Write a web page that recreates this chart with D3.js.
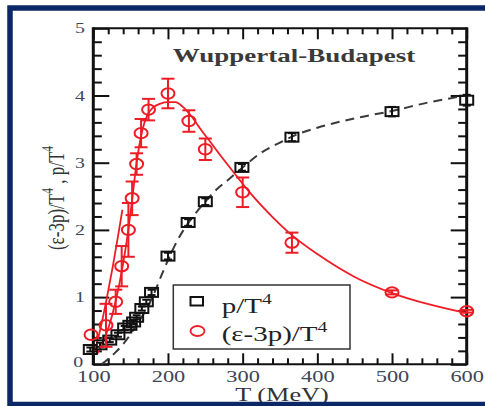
<!DOCTYPE html>
<html>
<head>
<meta charset="utf-8">
<script src="https://cdn.jsdelivr.net/npm/d3@7"></script>
<style>
  html, body { margin: 0; padding: 0; background: #fff; }
  svg { display: block; }
</style>
</head>
<body>
<svg id="chart" width="485" height="406"></svg>
<script>
// p/T^4 lattice points
const pT   = [96, 109, 122, 133, 142, 149, 154, 158, 165, 171, 178, 200, 227, 250, 299, 366, 500, 600];
const pV   = [0.22, 0.29, 0.36, 0.44, 0.54, 0.58, 0.63, 0.70, 0.83, 0.93, 1.07, 1.61, 2.11, 2.42, 2.93, 3.38, 3.76, 3.93];
const pErr = [0.03, 0.03, 0.03, 0.03, 0.03, 0.03, 0.03, 0.03, 0.03, 0.03, 0.04, 0.05, 0.05, 0.05, 0.05, 0.06, 0.07, 0.08];

// trace anomaly (e-3p)/T^4 lattice points
const tT   = [97, 117, 130, 138, 147, 152, 158, 164, 174, 200, 228, 250, 300, 366, 500, 600];
const tV   = [0.44, 0.58, 0.93, 1.46, 2.0, 2.47, 2.98, 3.44, 3.79, 4.03, 3.62, 3.20, 2.56, 1.81, 1.07, 0.79];
const tErr = [0.0, 0.32, 0.18, 0.30, 0.40, 0.25, 0.16, 0.21, 0.16, 0.22, 0.16, 0.16, 0.22, 0.15, 0.03, 0.02];

// dashed p/T^4 curve
const dashT = [111, 120, 129, 140, 150, 160, 170, 180, 190, 200, 212, 225, 240, 250, 265, 280, 300, 325, 350, 375, 400, 450, 500, 550, 600];
const dashV = [0, 0.08, 0.17, 0.30, 0.45, 0.62, 0.80, 1.02, 1.29, 1.55, 1.83, 2.07, 2.29, 2.42, 2.60, 2.74, 2.93, 3.15, 3.30, 3.43, 3.52, 3.66, 3.77, 3.90, 4.00];

// solid trace-anomaly parametrisation
const fitT = [105, 115, 125, 135, 145, 152, 158, 165, 172, 180, 190, 200, 210, 220, 230, 245, 260, 275, 292, 310, 341, 365, 400, 450, 500, 550, 600];
const fitV = [0.15, 0.38, 0.72, 1.20, 1.85, 2.45, 3.00, 3.45, 3.70, 3.82, 3.88, 3.90, 3.90, 3.83, 3.71, 3.48, 3.26, 3.04, 2.80, 2.55, 2.18, 1.93, 1.64, 1.30, 1.06, 0.89, 0.76];

// low-temperature hadron resonance gas line
const hrgT = [102, 110, 118, 126, 133, 139];
const hrgV = [0.20, 0.55, 0.98, 1.45, 1.90, 2.30];

// axis ticks
const xMajor = [100, 200, 300, 400, 500, 600];
const xMinor = d3.range(120, 600, 20).filter(v => v % 100 !== 0);
const yMajor = [0, 1, 2, 3, 4, 5];
const yMinor = d3.range(0.2, 5, 0.2).map(v => +v.toFixed(1)).filter(v => Math.abs(v - Math.round(v)) > 1e-6);

const RED = "#ee1c25";
const SERIF = "'Liberation Serif','Times New Roman',serif";

const svg = d3.select("#chart");
svg.append("rect").attr("width", 485).attr("height", 406).attr("fill", "#fff");

const L = 93.3, R = 466.7, T = 28.3, B = 364.3;
const x = d3.scaleLinear().domain([100, 600]).range([L, R]);
const y = d3.scaleLinear().domain([0, 5]).range([B, T]);

// stretched text with optional superscripts
function addText(parent, px, py, sx, anchor, size, weight, fill, parts, rotate) {
  const tr = `translate(${px},${py}) scale(${sx},1)` + (rotate ? ` rotate(${rotate})` : "");
  const t = parent.append("text")
    .attr("transform", tr)
    .attr("text-anchor", anchor)
    .attr("font-family", SERIF)
    .attr("font-size", size)
    .attr("font-weight", weight)
    .attr("fill", fill);
  let shift = 0;
  parts.forEach(p => {
    const sp = t.append("tspan");
    if (p.sup) {
      sp.attr("font-size", size * 0.68).attr("dy", -size * 0.45 - shift);
      shift = -size * 0.45;
    } else {
      sp.attr("dy", -shift);
      shift = 0;
    }
    sp.text(p.s);
  });
  return t;
}

// ticks
function tickAxis(gen, tx, ty) {
  const g = svg.append("g").attr("transform", `translate(${tx},${ty})`).call(gen);
  g.select(".domain").remove();
  g.selectAll(".tick line").attr("stroke", "#111").attr("stroke-width", 2);
  return g;
}
tickAxis(d3.axisBottom(x).tickValues(xMinor).tickSize(-6).tickFormat(""), 0, B);
tickAxis(d3.axisTop(x).tickValues(xMinor).tickSize(-6).tickFormat(""), 0, T);
tickAxis(d3.axisTop(x).tickValues(xMajor).tickSize(-11).tickFormat(""), 0, T);
tickAxis(d3.axisLeft(y).tickValues(yMinor).tickSize(-8.5).tickFormat(""), L, 0);
tickAxis(d3.axisRight(y).tickValues(yMinor).tickSize(-8.5).tickFormat(""), R, 0);
tickAxis(d3.axisRight(y).tickValues(yMajor).tickSize(-16).tickFormat(""), R, 0);

const gx = tickAxis(d3.axisBottom(x).tickValues(xMajor).tickSize(-11).tickFormat(d3.format("d")), 0, B);
gx.selectAll(".tick text")
  .attr("y", 0).attr("dy", 0)
  .attr("transform", "translate(0,17.5) scale(1.4,1)")
  .attr("font-family", SERIF).attr("font-size", 16).attr("fill", "#3e4655");

const gy = tickAxis(d3.axisLeft(y).tickValues(yMajor).tickSize(-16).tickFormat(d3.format("d")), L, 0);
gy.selectAll(".tick text")
  .attr("x", 0).attr("dy", 0).attr("text-anchor", "middle")
  .attr("transform", d => d === 0 ? "translate(-15,2.5) scale(1.37,1)" : "translate(-13.3,4.5) scale(1.37,1)")
  .attr("font-family", SERIF).attr("font-size", 14.5).attr("fill", "#3e4655");

// plot frame
svg.append("line").attr("x1", L).attr("x2", R).attr("y1", T).attr("y2", T).attr("stroke", "#111").attr("stroke-width", 2);
svg.append("line").attr("x1", L).attr("x2", R).attr("y1", B).attr("y2", B).attr("stroke", "#111").attr("stroke-width", 2);
svg.append("line").attr("x1", L).attr("x2", L).attr("y1", T - 1).attr("y2", B + 1).attr("stroke", "#111").attr("stroke-width", 3);
svg.append("line").attr("x1", R).attr("x2", R).attr("y1", T - 1).attr("y2", B + 1).attr("stroke", "#111").attr("stroke-width", 3);

// curves
const line = (xs, ys) => d3.line().x((d, i) => x(xs[i])).y((d, i) => y(ys[i])).curve(d3.curveMonotoneX)(xs);
svg.append("path").attr("d", line(dashT, dashV)).attr("fill", "none")
  .attr("stroke", "#3a3a3a").attr("stroke-width", 2).attr("stroke-dasharray", "9,6");
svg.append("path").attr("d", line(fitT, fitV)).attr("fill", "none")
  .attr("stroke", RED).attr("stroke-width", 1.8);
svg.append("path").attr("d", line(hrgT, hrgV)).attr("fill", "none")
  .attr("stroke", RED).attr("stroke-width", 1.8);

// p/T^4 markers
const gp = svg.append("g").attr("stroke", "#111").attr("fill", "none").attr("stroke-width", 2);
pT.forEach((t, i) => {
  const cx = x(t), cy = y(pV[i]);
  const y1 = y(pV[i] + pErr[i]), y2 = y(pV[i] - pErr[i]);
  gp.append("rect").attr("x", cx - 6.5).attr("y", cy - 4.5).attr("width", 13).attr("height", 9);
  gp.append("line").attr("x1", cx).attr("x2", cx).attr("y1", y1).attr("y2", y2);
  gp.append("line").attr("x1", cx - 4).attr("x2", cx + 4).attr("y1", y1).attr("y2", y1);
  gp.append("line").attr("x1", cx - 4).attr("x2", cx + 4).attr("y1", y2).attr("y2", y2);
});

// (e-3p)/T^4 markers with error bars
const gt = svg.append("g").attr("stroke", RED).attr("fill", "none").attr("stroke-width", 2);
tT.forEach((t, i) => {
  const cx = x(t), cy = y(tV[i]);
  gt.append("ellipse").attr("cx", cx).attr("cy", cy).attr("rx", 6.5).attr("ry", 5.2);
  if (tErr[i] > 0) {
    const y1 = y(tV[i] + tErr[i]), y2 = y(tV[i] - tErr[i]);
    gt.append("line").attr("x1", cx).attr("x2", cx).attr("y1", y1).attr("y2", y2);
    gt.append("line").attr("x1", cx - 6.5).attr("x2", cx + 6.5).attr("y1", y1).attr("y2", y1);
    gt.append("line").attr("x1", cx - 6.5).attr("x2", cx + 6.5).attr("y1", y2).attr("y2", y2);
  }
});

// legend
const lg = svg.append("g");
lg.append("rect").attr("x", 173.3).attr("y", 285).attr("width", 176.7).attr("height", 64)
  .attr("fill", "#fff").attr("stroke", "#333").attr("stroke-width", 1.5);
lg.append("rect").attr("x", 190.5).attr("y", 297).attr("width", 12.5).attr("height", 8.5)
  .attr("fill", "none").attr("stroke", "#111").attr("stroke-width", 2);
lg.append("ellipse").attr("cx", 197.5).attr("cy", 331).attr("rx", 7).attr("ry", 5)
  .attr("fill", "none").attr("stroke", RED).attr("stroke-width", 1.8);
addText(lg, 221.7, 313, 1.45, "start", 20, "normal", "#222", [{s: "p/T"}, {s: "4", sup: true}]);
addText(lg, 221.7, 341, 1.45, "start", 20, "normal", "#222", [{s: "(ε-3p)/T"}, {s: "4", sup: true}]);

// title and axis labels
addText(svg, 294, 61.5, 1.5, "middle", 18, "bold", "#3a3a3a", [{s: "Wuppertal-Budapest"}]);
addText(svg, 282, 400.5, 1.42, "middle", 18.5, "normal", "#333", [{s: "T (MeV)"}]);
addText(svg, 64, 198, 1.4, "middle", 17, "normal", "#333",
  [{s: "(ε-3p)/T"}, {s: "4", sup: true}, {s: " , p/T"}, {s: "4", sup: true}], -90);

// outer frame
svg.append("rect").attr("x", 10).attr("y", 8).attr("width", 520).attr("height", 396.5)
  .attr("fill", "none").attr("stroke", "#0c2766").attr("stroke-width", 5.5);
</script>
</body>
</html>
